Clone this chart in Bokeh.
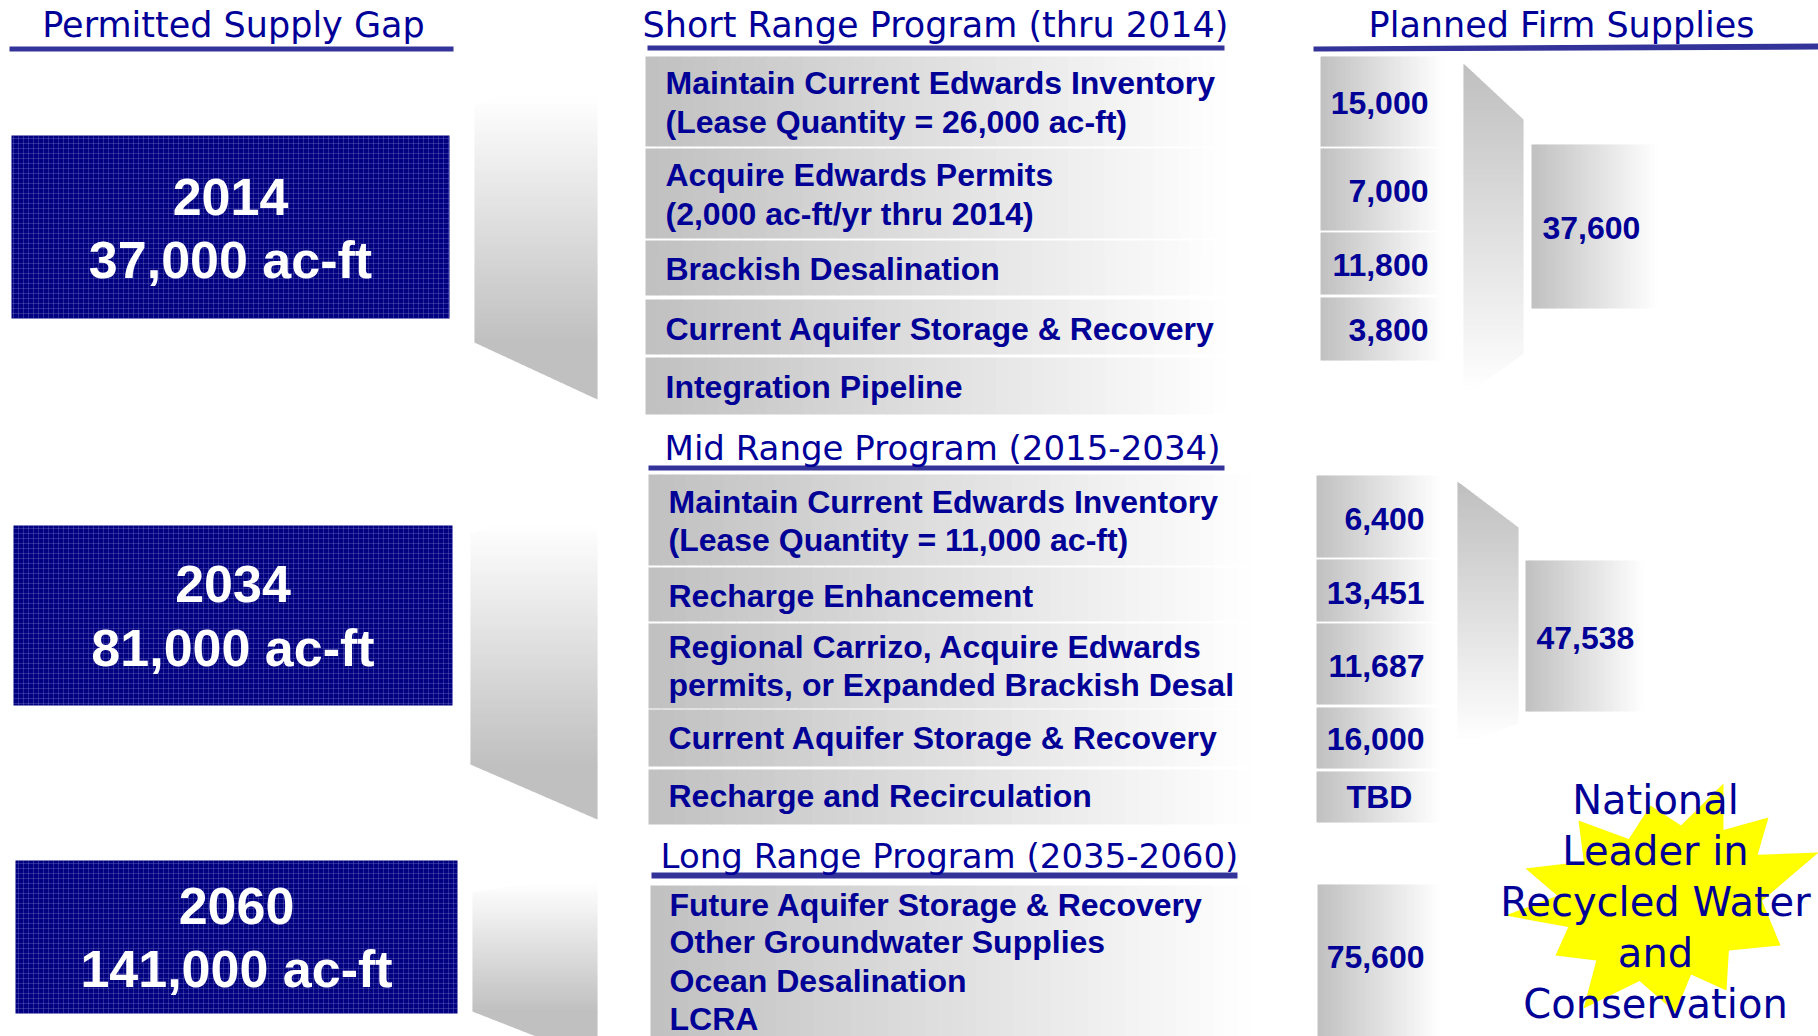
import numpy as np
from bokeh.plotting import figure
from bokeh.models import Range1d
from bokeh.core.properties import value
from bokeh.embed import file_html
from bokeh.resources import INLINE

# ---------------- data ----------------
headers = ["Permitted Supply Gap", "Short Range Program (thru 2014)", "Planned Firm Supplies"]
program_titles = ["Mid Range Program (2015-2034)", "Long Range Program (2035-2060)"]

gap_years = ["2014", "2034", "2060"]
gap_acft = ["37,000 ac-ft", "81,000 ac-ft", "141,000 ac-ft"]

short_items = [["Maintain Current Edwards Inventory", "(Lease Quantity = 26,000 ac-ft)"],
               ["Acquire Edwards Permits", "(2,000 ac-ft/yr thru 2014)"],
               ["Brackish Desalination"],
               ["Current Aquifer Storage & Recovery"],
               ["Integration Pipeline"]]
short_supplies = ["15,000", "7,000", "11,800", "3,800"]
short_total = "37,600"

mid_items = [["Maintain Current Edwards Inventory", "(Lease Quantity = 11,000 ac-ft)"],
             ["Recharge Enhancement"],
             ["Regional Carrizo, Acquire Edwards", "permits, or Expanded Brackish Desal"],
             ["Current Aquifer Storage & Recovery"],
             ["Recharge and Recirculation"]]
mid_supplies = ["6,400", "13,451", "11,687", "16,000", "TBD"]
mid_total = "47,538"

long_items = [["Future Aquifer Storage & Recovery", "Other Groundwater Supplies",
               "Ocean Desalination", "LCRA"]]
long_supplies = ["75,600"]

star_lines = ["National", "Leader in", "Recycled Water", "and", "Conservation"]

# ---------------- layout (positions / styles) ----------------
TXT = "#000096"
HEAD = "#000099"
ULINE = "#333399"
BOLD = "Liberation Sans"
THIN = "DejaVu Sans"

short_rows = [(56, 146), (148, 238), (240, 295), (299, 354), (357, 414)]
short_text_y = [[82, 121], [174, 213], [268], [328], [386]]
mid_rows = [(474, 565), (567, 621), (623, 708), (709, 766), (769, 824)]
mid_text_y = [[501, 539], [595], [646, 684], [737], [795]]
long_rows = [(885, 1040)]
long_text_y = [[904, 941, 980, 1018]]

short_val_rows = [(56, 146), (148, 230), (232, 294), (297, 360)]
short_val_y = [102, 190, 264, 329]
mid_val_rows = [(475, 557), (559, 621), (623, 704), (707, 768), (771, 822)]
mid_val_y = [518, 592, 665, 738, 796]
long_val_rows = [(884, 1040)]
long_val_y = [956]

blue_boxes = [(11, 449, 135, 318), (13, 452, 525, 705), (15, 457, 860, 1013)]
blue_mid = [(196, 259), (583, 647), (905, 968)]

W, H = 1818, 1036
p = figure(width=W, height=H, x_range=Range1d(0, W), y_range=Range1d(H, 0),
           output_backend="svg", toolbar_location=None, min_border=0,
           x_axis_location=None, y_axis_location=None)
p.xgrid.grid_line_color = None
p.ygrid.grid_line_color = None
p.outline_line_color = None
p.background_fill_color = "white"
p.border_fill_color = "white"


def gray(v):
    v = int(round(max(0, min(255, v))))
    return "#%02x%02x%02x" % (v, v, v)


QL, QR, QT, QB, QC = [], [], [], [], []


def hgrad(x0, y0, y1, fade_end, c0=192, n=48):
    xs = np.linspace(x0, fade_end, n + 1)
    for i in range(n):
        t = (i + 0.5) / n
        QL.append(xs[i]); QR.append(xs[i + 1] + 0.7)
        QT.append(y0); QB.append(y1)
        QC.append(gray(c0 + (255 - c0) * t))


PX, PY, PC = [], [], []


def _clip(poly, keep, inter):
    out = []
    for i in range(len(poly)):
        cur, prev = poly[i], poly[i - 1]
        if keep(cur):
            if not keep(prev):
                out.append(inter(prev, cur))
            out.append(cur)
        elif keep(prev):
            out.append(inter(prev, cur))
    return out


def _iy(y):
    return lambda a, b: (a[0] + (b[0] - a[0]) * (y - a[1]) / (b[1] - a[1]), y)


def vgrad(poly, ytop, ybot, ctop, cbot, step=3.0):
    ymin = min(q[1] for q in poly); ymax = max(q[1] for q in poly)
    y = ymin
    while y < ymax:
        seg = _clip(poly, lambda q: q[1] >= y, _iy(y))
        if seg:
            seg = _clip(seg, lambda q: q[1] <= y + step + 0.7, _iy(y + step + 0.7))
        if len(seg) >= 3:
            t = min(1.0, max(0.0, (y + step / 2 - ytop) / (ybot - ytop)))
            PX.append([q[0] for q in seg]); PY.append([q[1] for q in seg])
            PC.append(gray(ctop + (cbot - ctop) * t))
        y += step


# program rows
for (y0, y1) in short_rows:
    hgrad(645, y0, y1, 1225)
for (y0, y1) in mid_rows:
    hgrad(648, y0, y1, 1250)
for (y0, y1) in long_rows:
    hgrad(650, y0, y1, 1250)
# supply boxes
for (y0, y1) in short_val_rows:
    hgrad(1320, y0, y1, 1443)
for (y0, y1) in mid_val_rows:
    hgrad(1316, y0, y1, 1440)
for (y0, y1) in long_val_rows:
    hgrad(1317, y0, y1, 1440)
# totals boxes
hgrad(1531, 144, 308, 1657)
hgrad(1525, 560, 711, 1644)

# funnels (left): white top -> gray bottom
funnels = [((474, 105), (597, 60), (597, 399), (474, 342)),
           ((470, 533), (597, 487), (597, 819), (470, 764)),
           ((472, 892), (597, 871), (597, 1060), (472, 1011))]
for f in funnels:
    vgrad(list(f), f[0][1] - 10, f[3][1], 255, 192)
# connectors (right): gray top -> white bottom
conns = [((1463, 63), (1523, 119), (1523, 353), (1463, 397)),
         ((1457, 481), (1518, 527), (1518, 723), (1457, 746))]
for c in conns:
    vgrad(list(c), c[0][1] + 5, c[3][1] - 5, 192, 255)

p.quad(left=QL, right=QR, top=QT, bottom=QB, fill_color=QC, line_color=None)
p.patches(xs=PX, ys=PY, fill_color=PC, line_color=None)

# underlines
ul_x = [[9, 453, 453, 9], [647, 1224, 1224, 647], [1313, 1818, 1818, 1313],
        [648, 1224, 1224, 648], [651, 1237, 1237, 651]]
ul_y = [[46, 46, 51, 51], [45, 45, 50, 50], [46, 43, 49, 51],
        [465, 465, 470, 470], [872, 872, 878, 878]]
p.patches(xs=ul_x, ys=ul_y, fill_color=ULINE, line_color=None)

# blue gap boxes
p.quad(left=[b[0] for b in blue_boxes], right=[b[1] for b in blue_boxes],
       top=[b[2] for b in blue_boxes], bottom=[b[3] for b in blue_boxes],
       fill_color="#000080", line_color=None,
       hatch_pattern="+", hatch_color="#8c8cd0", hatch_alpha=0.3, hatch_scale=5, hatch_weight=1)

# star
tips = [(1723, 783), (1768, 817), (1818, 852), (1780, 945), (1726, 990), (1675, 1012),
        (1583, 1008), (1555, 955), (1505, 915), (1525, 868), (1578, 820), (1650, 805)]
cx, cy = 1665, 905
sx, sy = [], []
for i, a in enumerate(tips):
    b = tips[(i + 1) % len(tips)]
    sx.append(a[0]); sy.append(a[1])
    mx, my = (a[0] + b[0]) / 2, (a[1] + b[1]) / 2
    sx.append(cx + 0.72 * (mx - cx)); sy.append(cy + 0.72 * (my - cy))
p.patch(x=sx, y=sy, fill_color="#ffff00", line_color=None)


def txt(xs, ys, texts, size, color, font, style="normal", align="left"):
    p.text(x=xs, y=ys, text=texts, text_font=value(font), text_font_size=value("%dpx" % size),
           text_font_style=style, text_color=color, text_align=align, text_baseline="middle")


# headers
txt([233, 935, 1561], [24, 24, 24], headers, 35, HEAD, THIN, align="center")
txt([942, 949], [447, 855], program_titles, 34, HEAD, THIN, align="center")

# gap boxes text
bx, by, bt = [], [], []
for i, b in enumerate(blue_boxes):
    c = (b[0] + b[1]) / 2
    bx += [c, c]; by += list(blue_mid[i]); bt += [gap_years[i], gap_acft[i]]
txt(bx, by, bt, 52, "white", BOLD, "bold", "center")

# program item text
ix, iy, it = [], [], []
for items, ys, x0 in [(short_items, short_text_y, 665), (mid_items, mid_text_y, 668),
                      (long_items, long_text_y, 669)]:
    for lines, yl in zip(items, ys):
        for s, y in zip(lines, yl):
            ix.append(x0); iy.append(y); it.append(s)
txt(ix, iy, it, 32, TXT, BOLD, "bold")

# supply values
vx, vy, vt = [], [], []
cxs, cys, cts = [], [], []
for vals, ys, xr in [(short_supplies, short_val_y, 1428), (mid_supplies, mid_val_y, 1424),
                     (long_supplies, long_val_y, 1424)]:
    for s, y in zip(vals, ys):
        if s[0].isdigit():
            vx.append(xr); vy.append(y); vt.append(s)
        else:
            cxs.append(1379); cys.append(y); cts.append(s)
txt(vx, vy, vt, 32, TXT, BOLD, "bold", "right")
txt(cxs, cys, cts, 32, TXT, BOLD, "bold", "center")
txt([1542, 1536], [227, 637], [short_total, mid_total], 32, TXT, BOLD, "bold")

# star text
txt([1655] * 5, [799, 850, 901, 952, 1003], star_lines, 40, TXT, THIN, align="center")

open("out.html", "w").write(file_html(p, INLINE))
